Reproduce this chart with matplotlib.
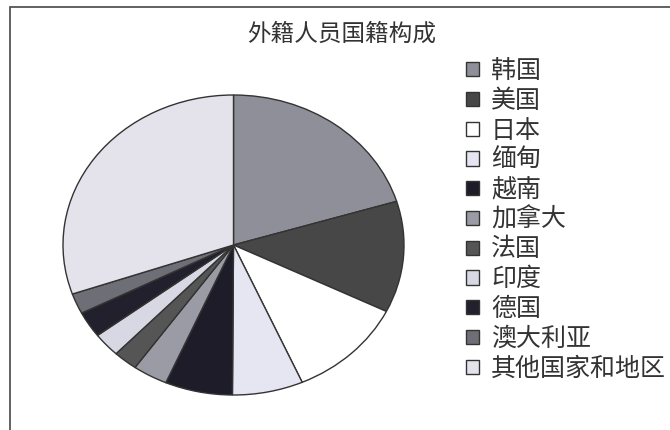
import matplotlib
matplotlib.use("Agg")
from matplotlib import pyplot as plt
from matplotlib.patches import Rectangle

plt.rcParams['font.family'] = ['Noto Sans CJK SC', 'DejaVu Sans']

# data (percent)
countries = ['韩国', '美国', '日本', '缅甸', '越南', '加拿大', '法国', '印度', '德国', '澳大利亚', '其他国家和地区']
shares = [20.3, 12.0, 11.1, 6.7, 6.4, 3.3, 2.3, 2.6, 2.8, 2.2, 30.3]
colors = ['#8f8f99', '#474747', '#ffffff', '#e6e6f2', '#1e1c28', '#9b9ba5',
          '#555555', '#d8d8e4', '#22202c', '#6e6e76', '#e4e3ec']
title = '外籍人员国籍构成'

W, H = 670, 430
fig = plt.figure(figsize=(W/100, H/100), dpi=100)
fig.patch.set_facecolor('white')

# outer frame (only left and top edges visible in the reference)
fig.patches.append(Rectangle((10/W, -0.1), 1.2, 1 - 7/H + 0.1, transform=fig.transFigure,
                             fill=False, edgecolor='#555555', lw=1.3))

ax = fig.add_axes([63/W, 35/H, 341/W, 300/H])
wedges, _ = ax.pie(shares, colors=colors, startangle=90, counterclock=False,
                   wedgeprops=dict(edgecolor='#333333', linewidth=1.0))
ax.set_aspect('auto')
ax.set_xlim(-1, 1)
ax.set_ylim(-1, 1)
ax.axis('off')

fig.text(342/W, 1 - 34/H, title, ha='center', va='center', fontsize=17, color='#333333')

leg = fig.legend(wedges, countries, loc='upper left', bbox_to_anchor=(466/W, 1 - 58/H),
                 frameon=False, fontsize=18, handlelength=0.5, handleheight=0.5,
                 handletextpad=0.5, labelspacing=0.15, borderpad=0, borderaxespad=0)
for t in leg.get_texts():
    t.set_color('#333333')
for h in leg.legend_handles:
    h.set_edgecolor('#333333')
    h.set_linewidth(1.0)

fig.savefig('out.png', dpi=100)
